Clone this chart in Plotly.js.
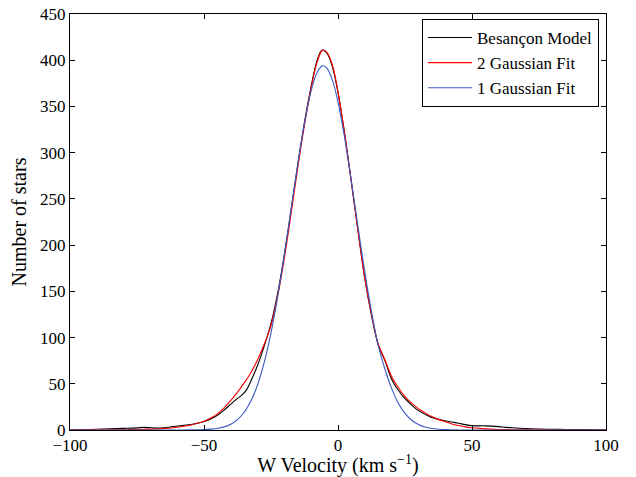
<!DOCTYPE html>
<html>
<head>
<meta charset="utf-8">
<script src="https://cdn.plot.ly/plotly-3.0.1.min.js"></script>
<style>html,body{margin:0;padding:0;background:#fff;}#chart{width:636px;height:477px;}</style>
</head>
<body>
<div id="chart"></div>
<script>
// Besançon Model (black)
const modelX = [-100,-95,-90,-85,-80,-75,-72.5,-70,-67.5,-65,-62.5,-60,-57.5,-55,-52.5,-50,-47.5,-45,-42.5,-40,-38,-36,-34,-32.5,-30,-27.5,-25,-22.5,-20,-17.5,-15,-12.5,-10,-8,-6,-4,-2,0,2.5,5,7.5,10,12.5,15,17.5,20,22.5,25,27.5,30,32.5,35,37.5,40,42.5,45,47.5,50,55,60,62.5,65,70,75,80,85,90,95,100];
const modelY = [0.2,0.4,0.8,1.3,1.8,2.3,2.8,2.4,2.0,2.3,3.2,4.4,5.2,5.8,7.2,9.3,12,16,21.5,28,33,37.5,44,53,70,91,115,148,190,238,287,333,372,398,411,407,392,365,320,268,215,164,124,92,75,55,43,34,27,21,17,13.5,11.5,10,8.6,7.3,5.8,4.6,4.5,3.6,2.8,2.4,1.6,1.0,0.8,0.5,0.4,0.3,0.2];

// 2 Gaussian Fit (red)
const fit2X = [-100,-90,-80,-75,-70,-65,-60,-55,-50,-47.5,-45,-42.5,-40,-37.5,-35,-32.5,-30,-27.5,-25,-22.5,-20,-17.5,-15,-12.5,-10,-8,-6,-5.5,-4,-2,0,2.5,5,7.5,10,12.5,15,17.5,20,22.5,25,27.5,30,32.5,35,37.5,40,42.5,45,47.5,50,55,60,70,80,100];
const fit2Y = [0,0.1,0.3,0.5,0.9,1.6,3,5.5,9.5,13,17.5,24,32,41,51,62,76,93,113,145,186,234,284,330,370,396,410.5,411,408,394,366,320,268,214,164,125,93,76,58,46,36,29,23,18.5,14.5,11.5,9,6.5,4.8,3.4,2.4,1.2,0.6,0.2,0.05,0];

// 1 Gaussian Fit (blue)
const fit1X = [-100,-70,-60,-55,-50,-47.5,-45,-42.5,-40,-37.5,-35,-32.5,-30,-27.5,-25,-22.5,-20,-17.5,-15,-12.5,-10,-8,-6,-5.5,-4,-2,0,2.5,5,7.5,10,12.5,15,17.5,20,22.5,25,27.5,30,32.5,35,37.5,40,45,50,100];
const fit1Y = [0,0,0.02,0.1,0.4,0.9,1.7,3.4,6.3,11.3,19.2,31.4,49,73.4,105,144.5,190,239,288,332,367,385.5,393.7,394,391,377.6,354.7,315.6,268.7,219,171,128,91.6,66,45,29,18,10.5,6,3.2,1.6,0.8,0.4,0.05,0,0];

const xTicks = [-100,-50,0,50,100];
const yTicks = [0,50,100,150,200,250,300,350,400,450];

const serif = '"Liberation Serif", "Times New Roman", serif';

const traces = [
  {x: modelX, y: modelY, name: 'Besançon Model', mode: 'lines', line: {color: '#000000', width: 1.1, shape: 'spline', smoothing: 0.8}},
  {x: fit2X, y: fit2Y, name: '2 Gaussian Fit', mode: 'lines', line: {color: '#ff0000', width: 1.1, shape: 'spline', smoothing: 0.8}},
  {x: fit1X, y: fit1Y, name: '1 Gaussian Fit', mode: 'lines', line: {color: '#3b5bc4', width: 1.1, shape: 'spline', smoothing: 0.8}}
];

const axisCommon = {
  showgrid: false, zeroline: false, showline: true, linecolor: '#000', linewidth: 1,
  mirror: 'ticks', ticks: 'inside', ticklen: 5, tickcolor: '#000', tickwidth: 1,
  tickfont: {family: serif, size: 17, color: '#000'}
};

const layout = {
  width: 636, height: 477,
  margin: {l: 70, r: 30, t: 14, b: 47},
  paper_bgcolor: '#fff', plot_bgcolor: '#fff',
  showlegend: true,
  xaxis: Object.assign({}, axisCommon, {
    range: [-100, 100], tickvals: xTicks,
    title: {text: 'W Velocity (km s<sup>−1</sup>)', font: {family: serif, size: 20, color: '#000'}, standoff: 5}
  }),
  yaxis: Object.assign({}, axisCommon, {
    range: [0, 450], tickvals: yTicks,
    title: {text: 'Number of stars', font: {family: serif, size: 20, color: '#000'}, standoff: 8}
  }),
  legend: {
    x: 0.987, y: 0.988, xanchor: 'right', yanchor: 'top',
    bgcolor: '#fff', bordercolor: '#000', borderwidth: 1,
    font: {family: serif, size: 17, color: '#000'},
    itemwidth: 44
  }
};

Plotly.newPlot('chart', traces, layout, {displayModeBar: false, staticPlot: true});
</script>
</body>
</html>
